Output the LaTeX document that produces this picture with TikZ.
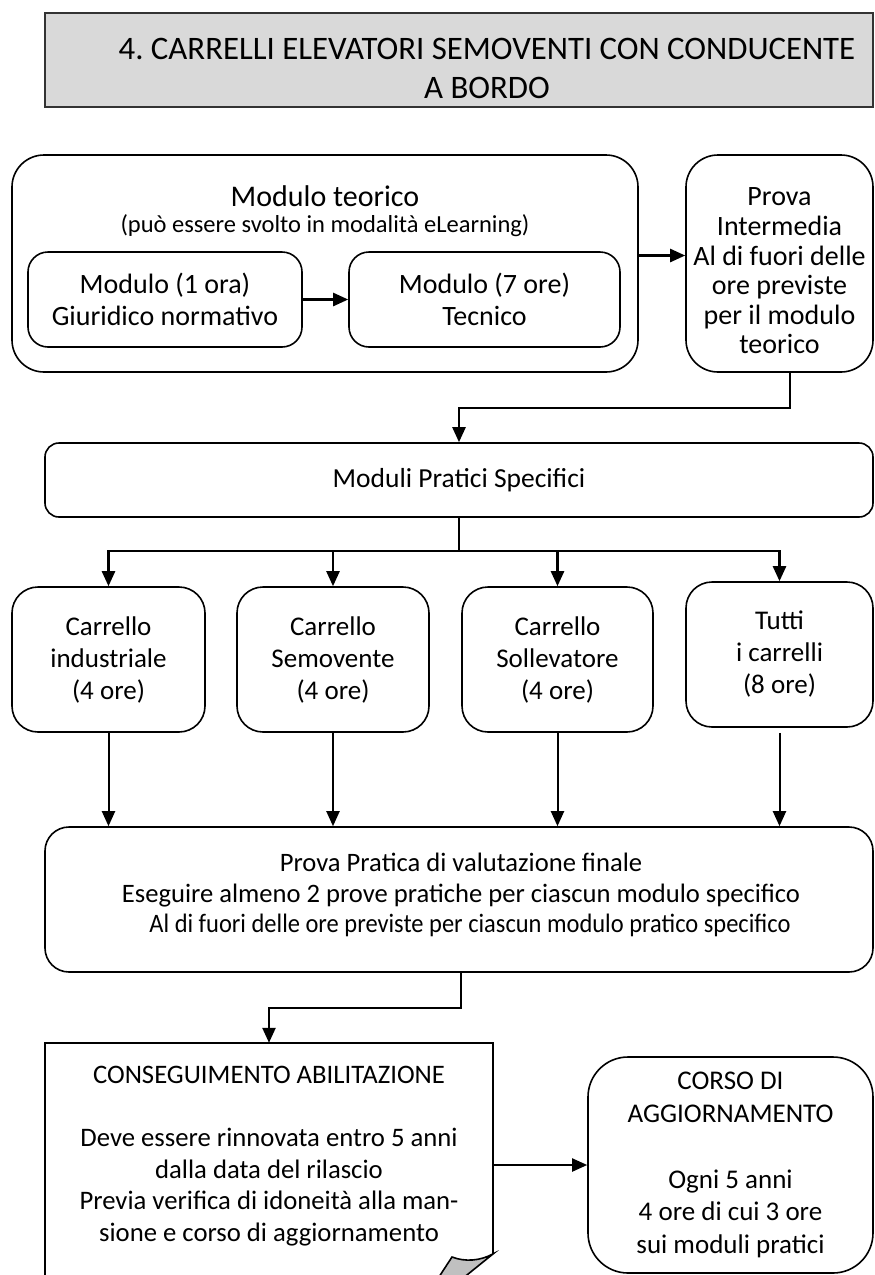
\documentclass[tikz,border=0pt]{standalone}
\usepackage{fontspec}
\setmainfont{Carlito}
\newfontfamily\narrowfont[FakeStretch=0.92]{Carlito}
\usetikzlibrary{arrows.meta,calc}
\definecolor{titlegray}{HTML}{D9D9D9}
\definecolor{foldgray}{HTML}{C0C0C0}
\newcommand{\fsz}[2]{\fontsize{#1}{#2}\selectfont}
\frenchspacing
\begin{document}
\begin{tikzpicture}[x=1pt,y=-1pt,
  box/.style={draw=black, line width=1.6pt, rectangle, align=center, inner sep=0pt},
  txt/.style={inner sep=0pt, align=center},
  arr/.style={draw=black, line width=2.4pt, -{Triangle[length=15pt,width=13pt]}},
  conn/.style={draw=black, line width=2.4pt},
  edge/.style={draw=black, line width=1.6pt}]
\useasboundingbox (0,0) rectangle (875,1275);
\clip (0,0) rectangle (875,1275);

% title
\node[box, fill=titlegray, draw=black!80, line width=1.8pt, minimum width=828pt, minimum height=94pt] (title) at (459,60) {};
\node[txt, font=\fsz{32.8}{39}\frenchspacing] (titletext) at (487,68) {4. CARRELLI ELEVATORI SEMOVENTI CON CONDUCENTE\\A BORDO};

% theory module
\node[box, rounded corners=32pt, minimum width=626pt, minimum height=217pt] (mt) at (325,263.5) {};
\node[txt, font=\fsz{30}{30}] (mtt) at (325,196) {Modulo teorico};
\node[txt, font=\fsz{24.5}{28}] (mts) at (325,226) {(può essere svolto in modalità eLearning)};
\node[box, rounded corners=20pt, minimum width=274pt, minimum height=95pt, font=\fsz{28}{32}] (m1) at (165,299.5) {Modulo (1 ora)\\Giuridico normativo};
\node[box, rounded corners=20pt, minimum width=271pt, minimum height=95pt, font=\fsz{28}{32}] (m2) at (484.5,299.5) {Modulo (7 ore)\\Tecnico};
\node[box, rounded corners=32pt, minimum width=187pt, minimum height=217pt] (pi) at (779.5,263.5) {};
\node[txt, font=\fsz{28}{29.6}] (pit) at (779.5,271) {Prova\\Intermedia\\Al di fuori delle\\ore previste\\per il modulo\\teorico};

% practical modules
\node[box, rounded corners=14pt, minimum width=828pt, minimum height=74pt, font=\fsz{27.5}{32}] (mp) at (459,480) {Moduli Pratici Specifici};

\node[box, rounded corners=26pt, minimum width=193pt, minimum height=145pt, font=\fsz{27}{32}] (c1) at (108.5,659.5) {Carrello\\industriale\\(4 ore)};
\node[box, rounded corners=26pt, minimum width=192pt, minimum height=145pt, font=\fsz{27}{32}] (c2) at (333,659.5) {Carrello\\Semovente\\(4 ore)};
\node[box, rounded corners=26pt, minimum width=191pt, minimum height=145pt, font=\fsz{27}{32}] (c3) at (557.5,659.5) {Carrello\\Sollevatore\\(4 ore)};
\node[box, rounded corners=26pt, minimum width=187pt, minimum height=145pt, font=\fsz{27}{32}] (c4) at (779.5,654.5) {Tutti\\i carrelli\\(8 ore)};

% final practical test
\node[box, rounded corners=24pt, minimum width=828pt, minimum height=145pt] (pp) at (459,899.5) {};
\node[txt, font=\fsz{26.6}{30.5}] (ppt) at (461,895) {Prova Pratica di valutazione finale\\Eseguire almeno 2 prove pratiche per ciascun modulo specifico\\\hspace*{18pt}{\narrowfont Al di fuori delle ore previste per ciascun modulo pratico specifico}};

% qualification (folded page)
\node[inner sep=0pt, minimum width=448pt, minimum height=247pt] (cons) at (269,1166.5) {};
\coordinate (foldA) at ($(cons.north east)+(0,211)$);
\coordinate (foldB) at (452,1257);
\fill[foldgray] (foldA) .. controls (480,1261) and (465,1262) .. (foldB) -- (435,1283) -- (457,1283) -- cycle;
\draw[edge] (cons.south west) -- (cons.north west) -- (cons.north east) -- (foldA);
\draw[edge] (457,1283) -- (foldA) .. controls (480,1261) and (465,1262) .. (foldB) -- (435,1283);
\node[txt, font=\fsz{26.7}{31.5}] (const) at (269,1156) {CONSEGUIMENTO ABILITAZIONE\\[31.5pt]Deve essere rinnovata entro 5 anni\\dalla data del rilascio\\Previa verifica di idoneità alla man-\\sione e corso di aggiornamento};

% refresher course
\node[box, rounded corners=40pt, minimum width=285pt, minimum height=216pt, font=\fsz{27}{32.8}] (corso) at (730.5,1165) {CORSO DI\\AGGIORNAMENTO\\[32.8pt]Ogni 5 anni\\4 ore di cui 3 ore\\sui moduli pratici};

% connectors
\draw[arr] (m1) -- (m2);
\draw[arr] ([yshift=8pt]mt.east) -- ([yshift=8pt]pi.west);
\draw[arr] ([xshift=10.5pt]pi.south) -- ++(0,35) -| (mp.north);
\draw[conn] (mp.south) -- ++(0,33) coordinate (br);
\draw[arr] (br) -| (c1.north);
\draw[arr] (br) -| (c2.north);
\draw[arr] (br) -| (c3.north);
\draw[arr] (br) -| (c4.north);
\draw[arr, line width=2pt] (c1.south) -- (c1.south |- pp.north);
\draw[arr, line width=2pt] (c2.south) -- (c2.south |- pp.north);
\draw[arr, line width=2pt] (c3.south) -- (c3.south |- pp.north);
\draw[arr, line width=2pt] ([yshift=-5pt]c4.south) -- (c4.south |- pp.north);
\draw[arr] ([xshift=2pt]pp.south) -- ++(0,35) -| (cons.north);
\draw[arr, line width=2pt] (cons.east |- corso.west) -- (corso.west);
\end{tikzpicture}
\end{document}
